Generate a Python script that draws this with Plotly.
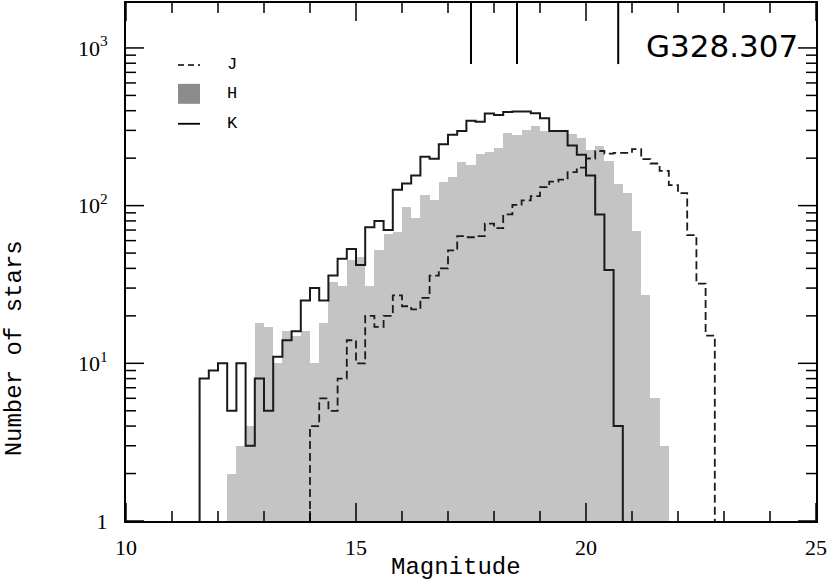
import math
import plotly.graph_objects as go

# histogram bins (left edges, mag), width 0.2
bins = [11.6, 11.8, 12.0, 12.2, 12.4, 12.6, 12.8, 13.0, 13.2, 13.4,
        13.6, 13.8, 14.0, 14.2, 14.4, 14.6, 14.8, 15.0, 15.2, 15.4,
        15.6, 15.8, 16.0, 16.2, 16.4, 16.6, 16.8, 17.0, 17.2, 17.4,
        17.6, 17.8, 18.0, 18.2, 18.4, 18.6, 18.8, 19.0, 19.2, 19.4,
        19.6, 19.8, 20.0, 20.2, 20.4, 20.6, 20.8, 21.0, 21.2, 21.4,
        21.6, 21.8, 22.0, 22.2, 22.4, 22.6]
bin_width = 0.2

k_counts = [8, 9, 10, 5, 10, 3, 8, 5, 11, 14,
            16, 25, 30, 25, 36, 46, 53, 42, 73, 80,
            70, 126, 138, 155, 204, 198, 245, 282, 297, 345,
            340, 384, 375, 392, 396, 396, 386, 358, 297, 297,
            241, 210, 155, 88, 39, 4, 0, 0, 0, 0,
            0, 0, 0, 0, 0, 0]
h_counts = [0, 0, 0, 2, 3, 4, 18, 17, 10, 16,
            15, 16, 10, 18, 33, 31, 45, 47, 31, 52,
            66, 68, 98, 84, 116, 108, 141, 153, 190, 181,
            214, 220, 233, 288, 280, 302, 318, 298, 301, 301,
            285, 270, 225, 240, 192, 138, 120, 69, 27, 6,
            3, 0, 0, 0, 0, 0]
j_counts = [0, 0, 0, 0, 0, 0, 0, 0, 0, 0,
            0, 0, 4, 6, 5, 8, 14, 10, 20, 17,
            20, 27, 23, 22, 26, 36, 40, 52, 64, 63,
            64, 77, 72, 88, 101, 108, 115, 131, 142, 146,
            163, 174, 199, 222, 214, 216, 216, 228, 197, 185,
            166, 135, 120, 65, 32, 15]

# completeness limits marked at the top
limit_mags = [17.5, 18.5, 20.7]
limit_low = 790

x_major = [10, 15, 20, 25]
x_minor = [11, 12, 13, 14, 16, 17, 18, 19, 21, 22, 23, 24]
y_major = [1, 10, 100, 1000]
y_labels = ["1", "10<sup>1</sup>", "10<sup>2</sup>", "10<sup>3</sup>"]
y_minor = [2, 3, 4, 5, 6, 7, 8, 9, 20, 30, 40, 50, 60, 70, 80, 90,
           200, 300, 400, 500, 600, 700, 800, 900]

field_name = "G328.307"
TICKFONT = "Liberation Serif"
TITLEFONT = "Liberation Mono"
X_RANGE = [10, 25]
Y_RANGE = [0, 3.285]
PLOT_W, PLOT_H = 690, 519


def step_xy(counts):
    idx = [i for i, c in enumerate(counts) if c > 0]
    a, b = idx[0], idx[-1]
    xs = [bins[a]] + bins[a:b + 1] + [round(bins[b] + bin_width, 2)]
    ys = [1] + counts[a:b + 1] + [1]
    return xs, ys


fig = go.Figure()

hx = [round(b + bin_width / 2, 2) for b, c in zip(bins, h_counts) if c > 0]
hy = [c for c in h_counts if c > 0]
fig.add_trace(go.Bar(x=hx, y=hy, width=bin_width,
                     marker=dict(color="#c4c4c4", line=dict(width=0))))

jx, jy = step_xy(j_counts)
fig.add_trace(go.Scatter(x=jx, y=jy, mode="lines", line_shape="hv",
                         line=dict(color="#1a1a1a", width=1.8, dash="8px,4px")))

kx, ky = step_xy(k_counts)
fig.add_trace(go.Scatter(x=kx, y=ky, mode="lines", line_shape="hv",
                         line=dict(color="#1a1a1a", width=2)))

for m in limit_mags:
    fig.add_trace(go.Scatter(x=[m, m], y=[limit_low, 5000], mode="lines",
                             line=dict(color="black", width=2)))


# pixel -> paper helpers (plot area 126..816 x 1..520)
def px(x):
    return (x - 126) / 690.0


def py(y):
    return (520 - y) / 519.0


def note(x, y, text, family, size, angle=0):
    fig.add_annotation(x=px(x), y=py(y), xref="paper", yref="paper",
                       xanchor="center", yanchor="middle",
                       text=text, showarrow=False, textangle=angle,
                       font=dict(family=family, size=size, color="black"))


# tick marks on all four sides, pointing inwards
def xtick(v, length):
    xp = (v - X_RANGE[0]) / (X_RANGE[1] - X_RANGE[0])
    for y0, y1 in [(0, length / PLOT_H), (1, 1 - length / PLOT_H)]:
        fig.add_shape(type="line", xref="paper", yref="paper",
                      x0=xp, x1=xp, y0=y0, y1=y1,
                      line=dict(color="black", width=1.5))


def ytick(v, length):
    yp = (math.log10(v) - Y_RANGE[0]) / (Y_RANGE[1] - Y_RANGE[0])
    for x0, x1 in [(0, length / PLOT_W), (1, 1 - length / PLOT_W)]:
        fig.add_shape(type="line", xref="paper", yref="paper",
                      x0=x0, x1=x1, y0=yp, y1=yp,
                      line=dict(color="black", width=1.5))


for v in x_major:
    xtick(v, 18)
for v in x_minor:
    xtick(v, 10)
for v in y_major:
    ytick(v, 18)
for v in y_minor:
    ytick(v, 10)

# legend drawn by hand
fig.add_shape(type="line", xref="paper", yref="paper",
              x0=px(178), x1=px(200), y0=py(63), y1=py(63),
              line=dict(color="black", width=1.5, dash="6px,4px"))
fig.add_shape(type="rect", xref="paper", yref="paper",
              x0=px(178), x1=px(200), y0=py(102), y1=py(82),
              fillcolor="#8c8c8c", line=dict(width=0))
fig.add_shape(type="line", xref="paper", yref="paper",
              x0=px(178), x1=px(200), y0=py(122), y1=py(122),
              line=dict(color="black", width=1.8))
for lab, yy in [("J", 63), ("H", 92), ("K", 122)]:
    note(232, yy, lab, TITLEFONT, 17)

note(722, 44, field_name, "DejaVu Sans", 31)
note(14, 347, "Number of stars", TITLEFONT, 24, angle=-90)
note(456, 567, "Magnitude", TITLEFONT, 24)

frame = dict(showgrid=False, zeroline=False, ticks="",
             showline=True, linewidth=2, linecolor="black", mirror=True)

fig.update_layout(
    width=830, height=581,
    margin=dict(l=126, r=14, t=1, b=60),
    paper_bgcolor="white", plot_bgcolor="white",
    showlegend=False, bargap=0,
    font=dict(family=TICKFONT, size=22, color="black"),
    xaxis=dict(range=X_RANGE, tickmode="array", tickvals=x_major,
               tickfont=dict(family=TICKFONT, size=22), ticklabelstandoff=6,
               **frame),
    yaxis=dict(type="log", range=Y_RANGE, tickmode="array", tickvals=y_major,
               ticktext=y_labels,
               tickfont=dict(family=TICKFONT, size=22), ticklabelstandoff=12,
               **frame),
)

fig.write_html("out.html", config={"displayModeBar": False},
               post_script="document.body.style.margin='0';")
